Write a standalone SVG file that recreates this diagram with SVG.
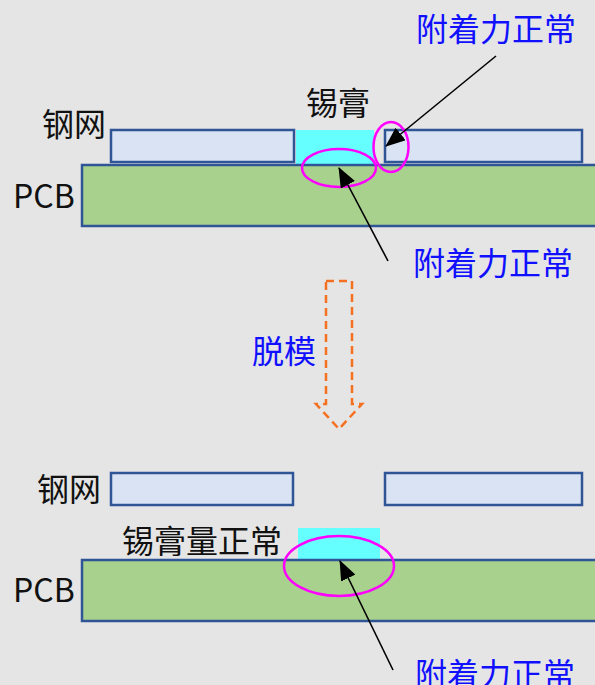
<svg xmlns="http://www.w3.org/2000/svg" width="595" height="685" viewBox="0 0 595 685">
  <style>
    .stencil { fill: #dae3f3; stroke: #2f5597; stroke-width: 2.5; }
    .pcb { fill: #a9d18e; stroke: #2f5597; stroke-width: 2.5; }
    .paste { fill: #66ffff; stroke: none; }
    .ring { fill: none; stroke: #ff00ff; stroke-width: 2.5; }
    .lbl { font-family: "Noto Sans CJK SC", "Noto Sans", sans-serif; font-size: 32px; fill: #111111; }
    .blue { font-family: "Noto Sans CJK SC", "Noto Sans", sans-serif; font-size: 32px; fill: #1010ff; }
    .ptr { stroke: #000000; stroke-width: 1.6; fill: none; marker-end: url(#ah); }
  </style>
  <defs>
    <marker id="ah" markerUnits="userSpaceOnUse" markerWidth="20" markerHeight="16" viewBox="0 0 20 16" refX="19" refY="8" orient="auto">
      <path d="M0,0 L20,8 L0,16 Z" fill="#000000"/>
    </marker>
  </defs>
  <rect id="background" x="0" y="0" width="595" height="685" fill="#e5e5e5"/>

  <g id="top-stencil-left"><rect class="stencil" x="111" y="130" width="183" height="32"/></g>
  <g id="top-stencil-right"><rect class="stencil" x="385" y="130" width="197" height="32"/></g>
  <g id="top-paste"><rect class="paste" x="296" y="130" width="78" height="35"/></g>
  <g id="top-pcb"><rect class="pcb" x="82" y="165" width="530" height="61"/></g>
  <g id="top-label-stencil"><text class="lbl" x="42" y="136">钢网</text></g>
  <g id="top-label-paste"><text class="lbl" x="306" y="115">锡膏</text></g>
  <g id="top-label-pcb"><text class="lbl" x="13" y="208">PCB</text></g>
  <g id="top-ring-bottom"><ellipse class="ring" cx="339" cy="168" rx="37" ry="19"/></g>
  <g id="top-ring-side"><ellipse class="ring" cx="391" cy="147" rx="17.5" ry="25"/></g>
  <g id="top-note-1"><text class="blue" x="416" y="41">附着力正常</text></g>
  <g id="top-note-2"><text class="blue" x="413" y="275">附着力正常</text></g>

  <g id="demold-arrow">
    <path d="M326,281 L352,281 L352,404 L362,404 L339,429 L316,404 L326,404 Z" fill="none" stroke="#f57122" stroke-width="2.5" stroke-dasharray="8 5"/>
  </g>
  <g id="demold-label"><text class="blue" x="252" y="363">脱模</text></g>

  <g id="bottom-stencil-left"><rect class="stencil" x="111" y="473" width="182" height="32"/></g>
  <g id="bottom-stencil-right"><rect class="stencil" x="385" y="473" width="197" height="32"/></g>
  <g id="bottom-paste"><rect class="paste" x="298" y="528" width="82" height="32"/></g>
  <g id="bottom-pcb"><rect class="pcb" x="82" y="560" width="530" height="61"/></g>
  <g id="bottom-label-stencil"><text class="lbl" x="37" y="501">钢网</text></g>
  <g id="bottom-label-paste"><text class="lbl" x="122" y="553">锡膏量正常</text></g>
  <g id="bottom-label-pcb"><text class="lbl" x="13" y="602">PCB</text></g>
  <g id="bottom-ring"><ellipse class="ring" cx="339" cy="566" rx="55" ry="30"/></g>
  <g id="bottom-note"><text class="blue" x="415" y="686">附着力正常</text></g>

  <g id="connectors">
    <line class="ptr" x1="496" y1="56" x2="386" y2="146"/>
    <line class="ptr" x1="388" y1="261" x2="339" y2="168"/>
    <line class="ptr" x1="393" y1="670" x2="340" y2="561"/>
  </g>
</svg>
